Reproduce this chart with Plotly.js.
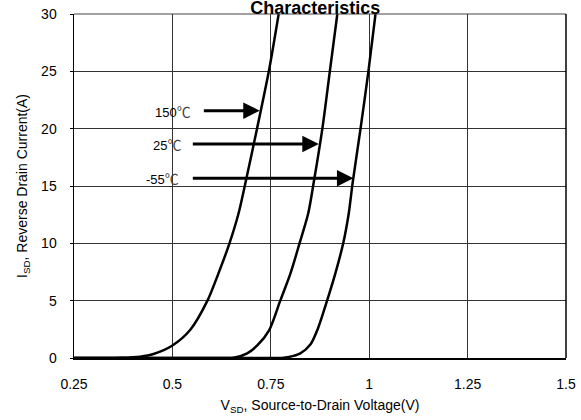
<!DOCTYPE html>
<html><head><meta charset="utf-8">
<script src="https://cdn.plot.ly/plotly-3.0.1.min.js"></script>
<style>html,body{margin:0;padding:0;background:#fff}#c{width:581px;height:420px}</style>
</head><body><div id="c"></div>
<script>
const v150 = [0.25, 0.32, 0.37, 0.418, 0.452, 0.499, 0.545, 0.589, 0.617, 0.645, 0.668, 0.687, 0.715, 0.745, 0.770];
const i150 = [0, 0, 0.02, 0.12, 0.35, 1.07, 2.44, 5, 7.38, 10, 12.6, 15.5, 20, 25, 30];
const v25 = [0.25, 0.63, 0.655, 0.690, 0.715, 0.746, 0.774, 0.800, 0.823, 0.845, 0.859, 0.881, 0.900, 0.919];
const i25 = [0, 0, 0.02, 0.41, 1.07, 2.44, 5, 7.38, 10, 12.6, 15.3, 20, 25, 30];
const vm55 = [0.25, 0.76, 0.783, 0.825, 0.851, 0.870, 0.893, 0.914, 0.934, 0.948, 0.958, 0.978, 0.998, 1.016];
const im55 = [0, 0, 0.02, 0.41, 1.2, 2.6, 5, 7.38, 10, 12.6, 15.3, 20, 25, 30];
const tempNums = ['150', '25', '-55'];
const arrowTailV = [0.571, 0.543, 0.543];
const arrowTipV = [0.722, 0.872, 0.960];
const arrowI = [21.57, 18.66, 15.67];
const labelRightV = [0.552, 0.527, 0.522];
const xTicks = [0.25, 0.5, 0.75, 1, 1.25, 1.5];
const yTicks = [0, 5, 10, 15, 20, 25, 30];

const line = {color: '#000', width: 2.5, shape: 'spline', smoothing: 0.8};
const traces = [
  {x: v150, y: i150, mode: 'lines', line: line, hoverinfo: 'skip'},
  {x: v25, y: i25, mode: 'lines', line: line, hoverinfo: 'skip'},
  {x: vm55, y: im55, mode: 'lines', line: line, hoverinfo: 'skip'}
];
const ann = [];
for (let k = 0; k < 3; k++) {
  ann.push({x: arrowTipV[k], y: arrowI[k], ax: arrowTailV[k], ay: arrowI[k], axref: 'x', ayref: 'y',
    xref: 'x', yref: 'y', text: ' ', showarrow: true, arrowhead: 2, arrowsize: 1.1, arrowwidth: 3,
    arrowcolor: '#000', standoff: 0, startstandoff: 0});
  ann.push({x: labelRightV[k], y: arrowI[k], xref: 'x', yref: 'y', xanchor: 'right', yanchor: 'middle',
    text: tempNums[k] + '<span style="font-family:\'Noto Sans CJK SC\';font-size:14px;color:#444">℃</span>',
    showarrow: false, font: {family: 'Liberation Sans, Arial', size: 13, color: '#000'}});
}
const layout = {
  width: 581, height: 420,
  margin: {l: 74, r: 15, t: 14, b: 62},
  paper_bgcolor: '#fff', plot_bgcolor: '#fff',
  showlegend: false,
  font: {family: 'Liberation Sans, Arial', size: 14, color: '#000'},
  title: {text: '<b>Characteristics</b>', font: {size: 18, color: '#000'}, x: 0.5425, xanchor: 'center', y: 0.982, yanchor: 'middle'},
  xaxis: {range: [0.25, 1.5], tickvals: xTicks, ticktext: xTicks.map(String), showgrid: true, gridcolor: '#333', gridwidth: 1,
    showline: true, linecolor: '#000', linewidth: 2, mirror: false, zeroline: false, ticks: '', ticklen: 0,
    ticklabelstandoff: 12, tickfont: {size: 14}, title: {text: 'V<sub>SD</sub>, Source-to-Drain Voltage(V)', font: {size: 14}, standoff: 9}},
  yaxis: {range: [0, 30], tickvals: yTicks, showgrid: true, gridcolor: '#333', gridwidth: 1,
    showline: true, linecolor: '#000', linewidth: 1.5, zeroline: false, ticks: 'outside', ticklen: 3, tickcolor: '#000',
    ticklabelstandoff: 10, tickfont: {size: 14}, title: {text: 'I<sub>SD</sub>, Reverse Drain Current(A)', font: {size: 14}, standoff: 10}},
  shapes: [
    {type: 'line', xref: 'paper', yref: 'paper', x0: 0, x1: 1, y0: 1, y1: 1, line: {color: '#444', width: 1}},
    {type: 'line', xref: 'paper', yref: 'paper', x0: 1, x1: 1, y0: 0, y1: 1, line: {color: '#000', width: 1.5}}
  ],
  annotations: ann
};
Plotly.newPlot('c', traces, layout, {staticPlot: true, displayModeBar: false});
</script></body></html>
